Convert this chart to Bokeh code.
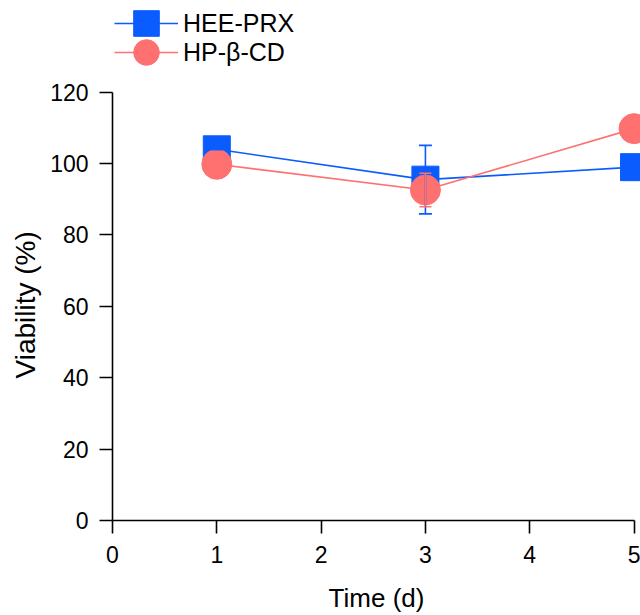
from bokeh.plotting import figure
from bokeh.models import ColumnDataSource, Whisker, TeeHead, Legend, LegendItem, Range1d, FixedTicker, Title
from bokeh.embed import file_html
from bokeh.resources import INLINE

days = [1, 3, 5]
hee_prx = [104.0, 95.5, 99.0]
hee_err = [0.0, 9.6, 0.0]
hp_cd = [99.8, 92.6, 109.8]
hp_err = [0.0, 4.7, 0.0]
x_ticks = [0, 1, 2, 3, 4, 5]
y_ticks = [0, 20, 40, 60, 80, 100, 120]

BLUE = "#0a5cff"
RED = "#ff7070"
FONT = "Liberation Sans"

p = figure(width=640, height=615, output_backend="svg", toolbar_location=None,
           x_range=Range1d(0, 5.062), y_range=Range1d(0, 145.7),
           min_border_left=112, min_border_right=0, min_border_top=0, min_border_bottom=95)
p.outline_line_color = None
p.xgrid.visible = False
p.ygrid.visible = False
p.background_fill_color = "white"
p.border_fill_color = "white"

src_a = ColumnDataSource(dict(x=days, y=hee_prx,
                              lo=[v - e for v, e in zip(hee_prx, hee_err)],
                              hi=[v + e for v, e in zip(hee_prx, hee_err)]))
src_b = ColumnDataSource(dict(x=days, y=hp_cd,
                              lo=[v - e for v, e in zip(hp_cd, hp_err)],
                              hi=[v + e for v, e in zip(hp_cd, hp_err)]))

la = p.line("x", "y", source=src_a, line_color=BLUE, line_width=1.6)
wa = Whisker(base="x", upper="hi", lower="lo", source=src_a, line_color=BLUE, line_width=1.6,
             upper_head=TeeHead(size=13, line_color=BLUE, line_width=1.6),
             lower_head=TeeHead(size=13, line_color=BLUE, line_width=1.6), level="glyph")
p.add_layout(wa)
sa = p.scatter("x", "y", source=src_a, marker="square", size=27, fill_color=BLUE, line_color=BLUE)

lb = p.line("x", "y", source=src_b, line_color=RED, line_width=1.6)
wb = Whisker(base="x", upper="hi", lower="lo", source=src_b, line_color=RED, line_width=1.6,
             upper_head=TeeHead(size=12, line_color=RED, line_width=1.6),
             lower_head=TeeHead(size=12, line_color=RED, line_width=1.6), level="glyph")
p.add_layout(wb)
sb = p.scatter("x", "y", source=src_b, marker="circle", size=30, fill_color=RED, line_color=RED)

for ax in (p.xaxis[0], p.yaxis[0]):
    ax.axis_line_width = 1.6
    ax.axis_line_color = "black"
    ax.major_tick_line_width = 1.6
    ax.major_tick_out = 13
    ax.major_tick_in = 0
    ax.minor_tick_line_color = None
    ax.major_label_text_font = FONT
    ax.major_label_text_font_size = "23px"
    ax.major_label_text_color = "black"
    ax.axis_label_text_font = FONT
    ax.axis_label_text_font_size = "26px"
    ax.axis_label_text_font_style = "normal"
    ax.axis_label_text_color = "black"

p.xaxis[0].ticker = FixedTicker(ticks=x_ticks)
p.yaxis[0].ticker = FixedTicker(ticks=y_ticks)
p.xaxis[0].bounds = (0, 5)
p.yaxis[0].bounds = (0, 120)
p.xaxis[0].axis_label = "Time (d)"
p.xaxis[0].major_label_standoff = 12
p.yaxis[0].major_label_standoff = 11
p.xaxis[0].axis_label_standoff = 17

ytitle = Title(text="Viability (%)", align="left", offset=142, text_font=FONT,
               text_font_size="28px", text_font_style="normal", text_color="black",
               standoff=13)
p.add_layout(ytitle, "left")

def make_legend(item, y):
    return Legend(items=[item], location=(2, y), padding=0, margin=0, spacing=0,
                  glyph_width=64, glyph_height=64, label_standoff=5,
                  label_text_font=FONT, label_text_font_size="25px", label_text_color="black",
                  background_fill_alpha=0, border_line_color=None)

p.add_layout(make_legend(LegendItem(label="HEE-PRX", renderers=[la, sa]), 465), "center")
p.add_layout(make_legend(LegendItem(label="HP-β-CD", renderers=[lb, sb]), 436), "center")

open("out.html", "w").write(file_html(p, INLINE))
